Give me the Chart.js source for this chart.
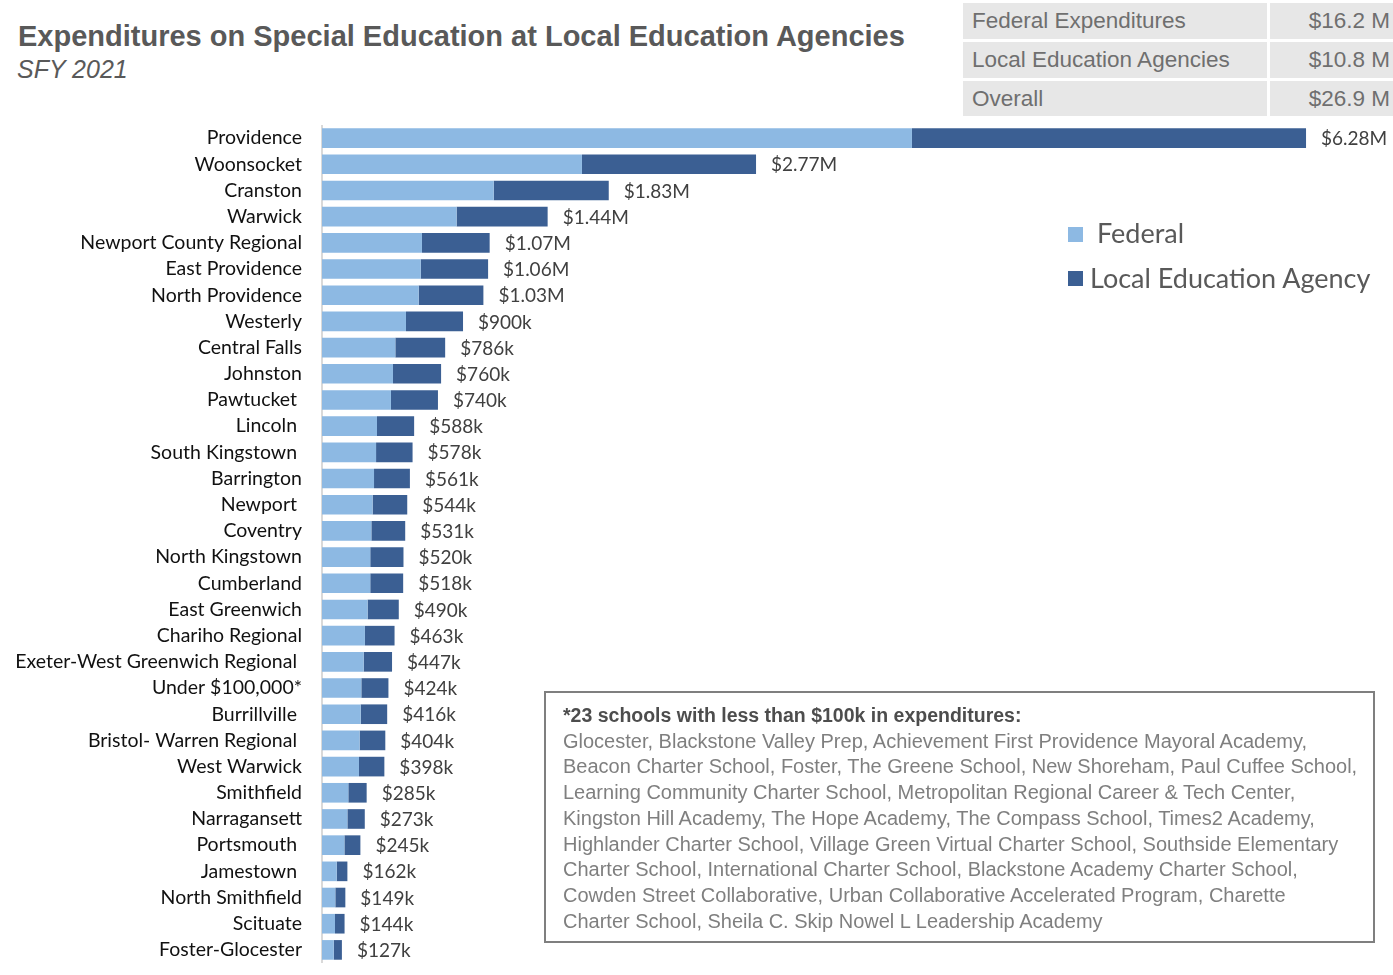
<!DOCTYPE html>
<html>
<head>
<meta charset="utf-8">
<script src="https://cdn.jsdelivr.net/npm/chart.js@4.4.1/dist/chart.umd.min.js"></script>
<style>
  body { margin: 0; width: 1393px; height: 975px; background: #fff; position: relative; overflow: hidden; font-family: "Liberation Sans", Arial, sans-serif; }
  #title { position: absolute; left: 18px; top: 20px; font-size: 29px; font-weight: bold; color: #595959; white-space: nowrap; }
  #subtitle { position: absolute; left: 17px; top: 55px; font-size: 25px; font-style: italic; color: #595959; }
  .cell { position: absolute; background: #e7e7e7; color: #6f6f6f; font-size: 22.5px; line-height: 36px; white-space: nowrap; overflow: hidden; box-sizing: border-box; }
  .c1 { left: 963px; width: 304px; padding-left: 9px; }
  .c2 { left: 1270px; width: 123px; text-align: right; padding-right: 3px; }
  #chartWrap { position: absolute; left: 0; top: 125px; width: 1393px; height: 838px; }
  .leg { position: absolute; font-family: Lato, sans-serif; font-size: 27px; color: #595959; white-space: nowrap; }
  .sw { position: absolute; width: 15px; height: 15px; }
  #note { position: absolute; left: 544px; top: 691px; width: 831px; height: 252px; box-sizing: border-box; border: 2px solid #7f7f7f; padding: 10px 0 0 17px; font-size: 20px; line-height: 25.7px; color: #7f7f7f; white-space: nowrap; }
  #note b { color: #4d4d4d; font-size: 19.5px; }
</style>
</head>
<body>
<div id="title">Expenditures on Special Education at Local Education Agencies</div>
<div id="subtitle">SFY 2021</div>

<div class="cell c1" style="top:3px;height:36px;">Federal Expenditures</div>
<div class="cell c2" style="top:3px;height:36px;">$16.2 M</div>
<div class="cell c1" style="top:42px;height:36px;">Local Education Agencies</div>
<div class="cell c2" style="top:42px;height:36px;">$10.8 M</div>
<div class="cell c1" style="top:81px;height:35px;">Overall</div>
<div class="cell c2" style="top:81px;height:35px;">$26.9 M</div>

<div id="chartWrap"><canvas id="lea" width="1393" height="838"></canvas></div>

<div class="sw" style="left:1068px;top:227px;background:#8db9e3;"></div>
<div class="leg" style="left:1097px;top:216px;">Federal</div>
<div class="sw" style="left:1068px;top:271px;background:#3b5f93;"></div>
<div class="leg" style="left:1090px;top:261px;">Local Education Agency</div>

<div id="note"><b>*23 schools with less than $100k in expenditures:</b><br>Glocester, Blackstone Valley Prep, Achievement First Providence Mayoral Academy,<br>Beacon Charter School, Foster, The Greene School, New Shoreham, Paul Cuffee School,<br>Learning Community Charter School, Metropolitan Regional Career &amp; Tech Center,<br>Kingston Hill Academy, The Hope Academy, The Compass School, Times2 Academy,<br>Highlander Charter School, Village Green Virtual Charter School, Southside Elementary<br>Charter School, International Charter School, Blackstone Academy Charter School,<br>Cowden Street Collaborative, Urban Collaborative Accelerated Program, Charette<br>Charter School, Sheila C. Skip Nowel L Leadership Academy</div>

<script>
// values in thousands of dollars
const agencies = [
    'Providence', 'Woonsocket', 'Cranston', 'Warwick', 'Newport County Regional',
    'East Providence', 'North Providence', 'Westerly', 'Central Falls', 'Johnston',
    'Pawtucket ', 'Lincoln ', 'South Kingstown ', 'Barrington', 'Newport ',
    'Coventry', 'North Kingstown', 'Cumberland', 'East Greenwich', 'Chariho Regional',
    'Exeter-West Greenwich Regional ', 'Under $100,000*', 'Burrillville ', 'Bristol- Warren Regional ', 'West Warwick',
    'Smithfield', 'Narragansett', 'Portsmouth ', 'Jamestown ', 'North Smithfield',
    'Scituate', 'Foster-Glocester'
];

const federal = [
    3765, 1659, 1096, 859, 638,
    630, 617, 536, 468, 453,
    440, 351, 345, 332, 323,
    315, 308, 308, 291, 274,
    266, 251, 247, 240, 236,
    168, 162, 143, 94, 85,
    83, 75
];

const localAgency = [
    2515, 1111, 734, 581, 432,
    430, 413, 364, 318, 307,
    300, 237, 233, 229, 221,
    216, 212, 210, 199, 189,
    181, 173, 169, 164, 162,
    117, 111, 102, 68, 64,
    61, 52
];

function formatTotal(k) {
    if (k >= 1000) return '$' + (k / 1000).toFixed(2) + 'M';
    return '$' + Math.round(k) + 'k';
}

const totalLabels = {
    id: 'totalLabels',
    afterDatasetsDraw(chart) {
        const ctx = chart.ctx;
        const meta = chart.getDatasetMeta(1);
        ctx.save();
        ctx.font = '19px Lato, sans-serif';
        ctx.fillStyle = '#404040';
        ctx.textAlign = 'left';
        ctx.textBaseline = 'middle';
        meta.data.forEach((bar, i) => {
            ctx.fillText(formatTotal(federal[i] + localAgency[i]), bar.x + 15, bar.y + 1);
        });
        ctx.restore();
    }
};

new Chart(document.getElementById('lea'), {
    type: 'bar',
    data: {
        labels: agencies,
        datasets: [
            {
                label: 'Federal',
                data: federal,
                backgroundColor: '#8db9e3',
                barPercentage: 0.75,
                categoryPercentage: 1.0
            },
            {
                label: 'Local Education Agency',
                data: localAgency,
                backgroundColor: '#3b5f93',
                barPercentage: 0.75,
                categoryPercentage: 1.0
            }
        ]
    },
    options: {
        indexAxis: 'y',
        responsive: false,
        animation: false,
        devicePixelRatio: 1,
        layout: { padding: 0 },
        scales: {
            x: {
                stacked: true,
                display: false,
                min: 0,
                max: 6835
            },
            y: {
                stacked: true,
                grid: { display: false },
                border: { display: true, color: '#d9d9d9', width: 2 },
                ticks: {
                    color: '#111',
                    padding: 12,
                    autoSkip: false,
                    font: { family: 'Lato, sans-serif', size: 19.5 }
                },
                afterFit(scale) {
                    scale.width = 322;
                    scale.paddingTop = 0;
                    scale.paddingBottom = 0;
                }
            }
        },
        plugins: {
            legend: { display: false },
            tooltip: { enabled: false }
        }
    },
    plugins: [totalLabels]
});
</script>
</body>
</html>
